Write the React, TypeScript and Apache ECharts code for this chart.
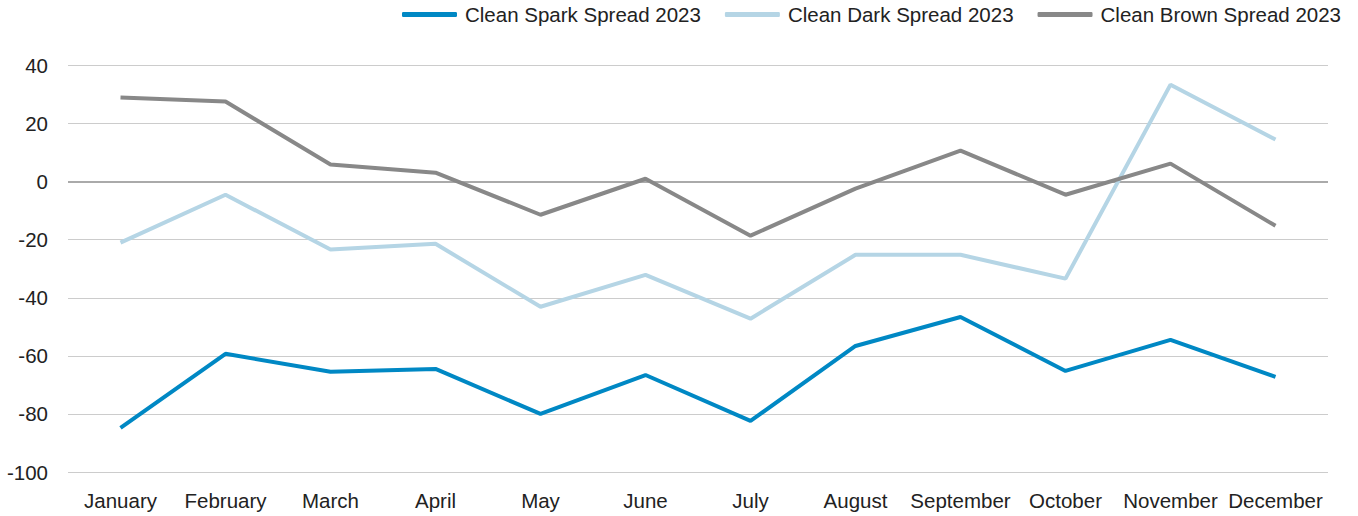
import React, { useEffect, useRef } from "react";
import * as echarts from "echarts";

const months = ["January", "February", "March", "April", "May", "June", "July", "August", "September", "October", "November", "December"];
const sparkSpread = [-84.8, -59.3, -65.5, -64.5, -80.0, -66.6, -82.4, -56.6, -46.6, -65.2, -54.5, -67.2];
const darkSpread = [-21.0, -4.5, -23.4, -21.4, -43.1, -32.1, -47.2, -25.2, -25.2, -33.4, 33.4, 14.5];
const brownSpread = [29.0, 27.6, 5.9, 3.1, -11.4, 1.0, -18.6, -2.4, 10.7, -4.5, 6.2, -15.2];

const FONT = "'Liberation Sans', Arial, sans-serif";

export default function App() {
  const ref = useRef<HTMLDivElement>(null);
  useEffect(() => {
    if (!ref.current) return;
    const chart = echarts.init(ref.current, undefined, { renderer: "svg" });
    const mk = (name: string, data: number[], color: string) => ({
      name,
      type: "line",
      data,
      symbol: "none",
      lineStyle: { color, width: 4 },
      itemStyle: { color },
      z: 3,
    });
    chart.setOption({
      animation: false,
      textStyle: { fontFamily: FONT },
      legend: {
        top: 4,
        right: 17,
        padding: 0,
        itemWidth: 55,
        itemHeight: 5,
        itemGap: 24,
        icon: "roundRect",
        textStyle: { fontSize: 20.5, color: "#222", fontFamily: FONT, padding: [0, 0, 0, 3] },
        data: ["Clean Spark Spread 2023", "Clean Dark Spread 2023", "Clean Brown Spread 2023"],
      },
      grid: { left: 68, right: 30, top: 65.5, bottom: 44, containLabel: false, outerBoundsMode: "none" },
      xAxis: {
        type: "category",
        data: months,
        boundaryGap: true,
        axisLine: { show: false },
        axisTick: { show: false },
        axisLabel: { fontSize: 20.5, color: "#222", margin: 18, fontFamily: FONT, interval: 0 },
      },
      yAxis: {
        type: "value",
        min: -100,
        max: 40,
        interval: 20,
        axisLine: { show: false },
        axisTick: { show: false },
        axisLabel: { fontSize: 20.5, color: "#222", margin: 20, fontFamily: FONT },
        splitLine: { lineStyle: { color: "#cccccc", width: 1 } },
      },
      series: [
        {
          ...mk("Clean Spark Spread 2023", sparkSpread, "#0088c4"),
          markLine: {
            silent: true,
            symbol: "none",
            label: { show: false },
            lineStyle: { color: "#aaaaaa", width: 2, type: "solid" },
            data: [{ yAxis: 0 }],
            z: 1,
          },
        },
        mk("Clean Dark Spread 2023", darkSpread, "#b5d5e5"),
        mk("Clean Brown Spread 2023", brownSpread, "#888888"),
      ],
    });
    return () => chart.dispose();
  }, []);
  return <div ref={ref} style={{ position: "absolute", left: 0, top: 0, width: 1358, height: 516 }} />;
}
